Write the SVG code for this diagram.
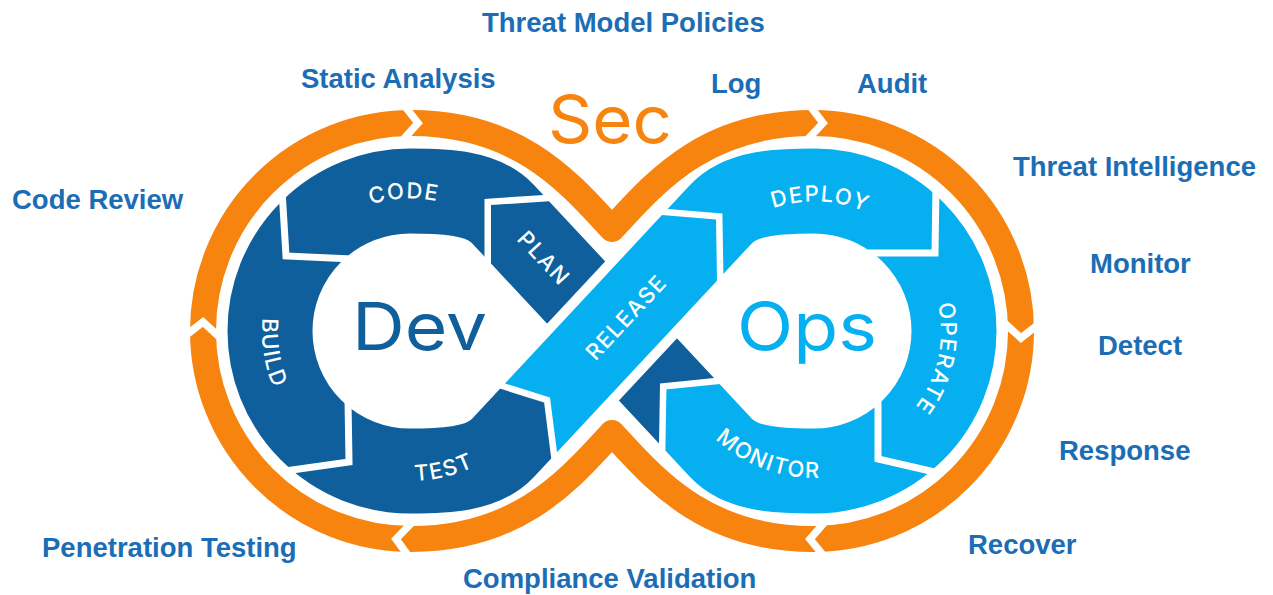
<svg xmlns="http://www.w3.org/2000/svg" width="1273" height="595" viewBox="0 0 1273 595">
  <defs>
    <style>
      .sec-band{fill:none;stroke:#F7840F;stroke-width:26;stroke-linejoin:round}
      .cut{fill:none;stroke:#fff;stroke-width:7.5;stroke-linejoin:miter;stroke-miterlimit:10}
      .band{fill:none;stroke-width:85;stroke-linejoin:round;stroke-linecap:butt}
      .dark{stroke:#0E5F9C}
      .light{stroke:#05AFF0}
      .piece{stroke:#fff;stroke-width:13;stroke-linejoin:miter;paint-order:stroke}
      .lbl{font-family:Inter,"Noto Sans","Liberation Sans",sans-serif;font-size:22px;font-weight:500;fill:#fff;letter-spacing:1.5px}
      .big{font-family:Inter,"Noto Sans","Liberation Sans",sans-serif;font-size:66px;font-weight:400}
      .head{font-family:"Liberation Sans",Arial,sans-serif;font-weight:bold;font-size:27.5px;fill:#1B6DB5}
    </style>
    <polyline id="chev" points="-16,-19 0,0 -16,19"/>
    <!-- baselines for the curved stage labels -->
    <path id="arc-code" d="M292.5,269.8 A132.5,132.5 0 0 1 521.7,259.8"/>
    <path id="arc-build" d="M316.9,216 A148,148 0 0 0 357,469.2"/>
    <path id="arc-test" d="M301.7,434.8 A150,150 0 0 0 554,372.9"/>
    <path id="arc-deploy" d="M705.5,261.8 A129.5,129.5 0 0 1 929.7,270.8"/>
    <path id="arc-operate" d="M900.3,238.3 A126,126 0 0 1 852.7,451.2"/>
    <path id="arc-monitor" d="M670.1,355.8 A147,147 0 0 0 908.9,444.1"/>
  </defs>

  <rect width="1273" height="595" fill="#fff"/>

  <!-- outer security loop with its arrow breaks -->
  <g id="sec-loop">
    <path class="sec-band" d="M203,331 A208,208 0 0 1 411,123 C521,123 571,185 612,229 C653,185 703,123 813,123 A208,208 0 0 1 1021,331 A208,208 0 0 1 813,539 C703,539 653,477 612,433 C571,477 521,539 411,539 A208,208 0 0 1 203,331 Z"/>
    <use href="#chev" class="cut" transform="translate(418,123) rotate(2)"/>
    <use href="#chev" class="cut" transform="translate(823,123) rotate(3)"/>
    <use href="#chev" class="cut" transform="translate(1021,338) rotate(92)"/>
    <use href="#chev" class="cut" transform="translate(810,539) rotate(181)"/>
    <use href="#chev" class="cut" transform="translate(396,539) rotate(184)"/>
    <use href="#chev" class="cut" transform="translate(203,322) rotate(-87.5)"/>
    <text class="big" x="548" y="143" fill="#F7840F" textLength="124" lengthAdjust="spacingAndGlyphs">Sec</text>
  </g>

  <!-- Dev loop: code, build, test -->
  <g id="dev-loop">
    <path class="band dark" d="M612,331 L502.9,214 C482.4,192.1 445,191 410,191 A140,140 0 0 0 270,331 A140,140 0 0 0 410,471 C445,471 482.4,469.9 502.9,448 L612,331"/>
    <text class="big" x="352" y="350" fill="#0E5F9C" textLength="135" lengthAdjust="spacingAndGlyphs">Dev</text>
  </g>

  <!-- Ops loop: deploy, operate, monitor -->
  <g id="ops-loop">
    <path class="band light" d="M612,331 L721.1,214 C741.6,192.1 779,191 814,191 A140,140 0 0 1 954,331 A140,140 0 0 1 814,471 C779,471 741.6,469.9 721.1,448 L612,331"/>
    <text class="big" x="737" y="350" fill="#05AFF0" textLength="140" lengthAdjust="spacingAndGlyphs">Ops</text>
  </g>

  <!-- plan segment, passing under release -->
  <g id="plan">
    <polygon class="piece" fill="#0E5F9C" points="491,205 549,201.2 714,378 660,383.5 659,443.6 491,263.6"/>
  </g>

  <!-- release segment, on top at the crossing -->
  <g id="release">
    <polygon fill="#fff" points="529.3,342.7 624.8,240.4 701.6,312 606.1,414.3"/>
    <polygon class="piece" fill="#05AFF0" points="505,383.4 550,397.5 557,452.3 717,280.8 716,219.5 662,215.1"/>
  </g>

  <!-- stage separators -->
  <g id="connectors">
    <polyline class="cut" style="stroke-width:7" points="282,190 286,256 352,259"/>
    <polyline class="cut" style="stroke-width:7" points="285,471 349,462 348,400"/>
    <polyline class="cut" style="stroke-width:7" points="936,186 935,253 868,253"/>
    <polyline class="cut" style="stroke-width:7" points="878,398 878,459 939,473"/>
  </g>

  <!-- stage labels -->
  <g id="stage-labels">
    <text class="lbl"><textPath href="#arc-code" startOffset="50%" text-anchor="middle">CODE</textPath></text>
    <text class="lbl"><textPath href="#arc-build" startOffset="50%" text-anchor="middle">BUILD</textPath></text>
    <text class="lbl"><textPath href="#arc-test" startOffset="50%" text-anchor="middle">TEST</textPath></text>
    <text class="lbl" text-anchor="middle" transform="translate(544,258) rotate(47)" y="8">PLAN</text>
    <text class="lbl" text-anchor="middle" transform="translate(626,317) rotate(-47)" y="8">RELEASE</text>
    <text class="lbl"><textPath href="#arc-deploy" startOffset="50%" text-anchor="middle">DEPLOY</textPath></text>
    <text class="lbl"><textPath href="#arc-operate" startOffset="50%" text-anchor="middle">OPERATE</textPath></text>
    <text class="lbl"><textPath href="#arc-monitor" startOffset="50%" text-anchor="middle">MONITOR</textPath></text>
  </g>

  <!-- security practices -->
  <g id="practices">
    <text class="head" x="482" y="32">Threat Model Policies</text>
    <text class="head" x="301" y="88">Static Analysis</text>
    <text class="head" x="711" y="93">Log</text>
    <text class="head" x="857" y="93">Audit</text>
    <text class="head" x="1013" y="176">Threat Intelligence</text>
    <text class="head" x="12" y="209">Code Review</text>
    <text class="head" x="1090" y="273">Monitor</text>
    <text class="head" x="1098" y="355">Detect</text>
    <text class="head" x="1059" y="460">Response</text>
    <text class="head" x="968" y="554">Recover</text>
    <text class="head" x="42" y="557">Penetration Testing</text>
    <text class="head" x="463" y="588">Compliance Validation</text>
  </g>
</svg>
